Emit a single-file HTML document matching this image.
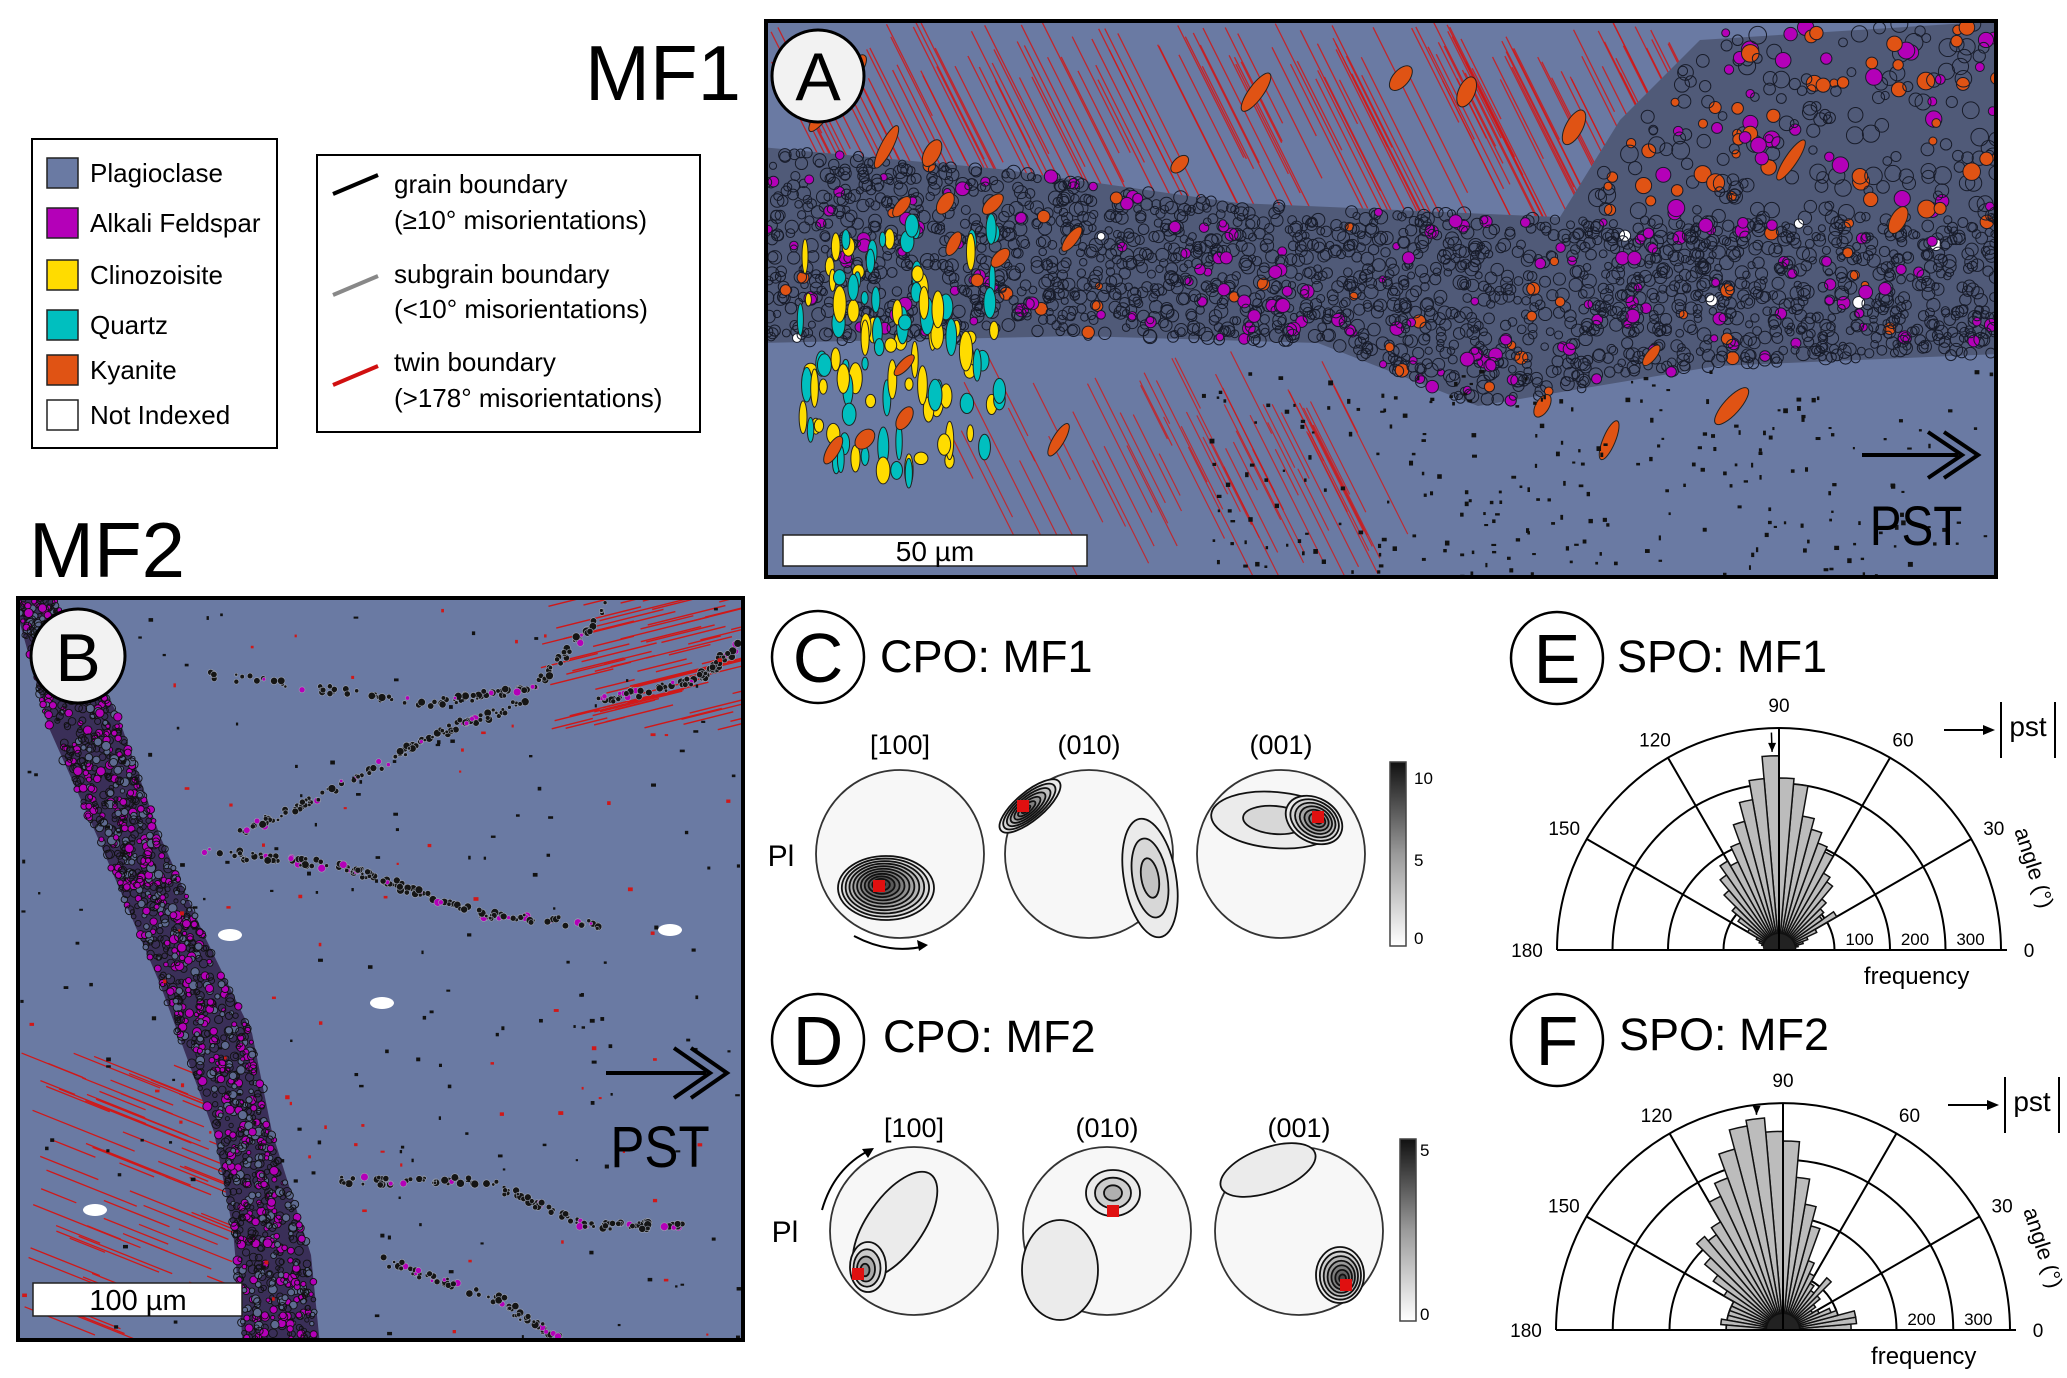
<!DOCTYPE html>
<html><head><meta charset="utf-8">
<style>
html,body{margin:0;padding:0;background:#fff;}
svg{display:block;font-family:"Liberation Sans",sans-serif;}
</style></head>
<body>
<svg id="fig" width="2067" height="1378" viewBox="0 0 2067 1378" xmlns="http://www.w3.org/2000/svg">
<defs>
  <clipPath id="clipA"><rect x="766" y="21" width="1230" height="556"/></clipPath>
  <clipPath id="clipB"><rect x="18" y="598" width="725" height="742"/></clipPath>
  <linearGradient id="cbar" x1="0" y1="1" x2="0" y2="0">
    <stop offset="0" stop-color="#ffffff"/><stop offset="0.5" stop-color="#9a9a9a"/><stop offset="1" stop-color="#111"/>
  </linearGradient>
</defs>

<text x="585" y="100" font-size="78">MF1</text>
<text x="29" y="577" font-size="78">MF2</text>

<g>
  <rect x="32" y="139" width="245" height="309" fill="#fff" stroke="#000" stroke-width="2"/>
  <rect x="47" y="158" width="31" height="30" fill="#6a7aa3" stroke="#222" stroke-width="1.5"/>
  <text x="90" y="182" font-size="26">Plagioclase</text>
  <rect x="47" y="208" width="31" height="30" fill="#b400b8" stroke="#222" stroke-width="1.5"/>
  <text x="90" y="232" font-size="26">Alkali Feldspar</text>
  <rect x="47" y="260" width="31" height="30" fill="#ffdc00" stroke="#222" stroke-width="1.5"/>
  <text x="90" y="284" font-size="26">Clinozoisite</text>
  <rect x="47" y="310" width="31" height="30" fill="#00bfbf" stroke="#222" stroke-width="1.5"/>
  <text x="90" y="334" font-size="26">Quartz</text>
  <rect x="47" y="355" width="31" height="30" fill="#e05314" stroke="#222" stroke-width="1.5"/>
  <text x="90" y="379" font-size="26">Kyanite</text>
  <rect x="47" y="400" width="31" height="30" fill="#fff" stroke="#222" stroke-width="1.5"/>
  <text x="90" y="424" font-size="26">Not Indexed</text>
</g>

<g>
  <rect x="317" y="155" width="383" height="277" fill="#fff" stroke="#000" stroke-width="2"/>
  <line x1="333" y1="194" x2="378" y2="175" stroke="#000" stroke-width="4"/>
  <text x="394" y="193" font-size="26">grain boundary</text>
  <text x="394" y="229" font-size="26">(≥10° misorientations)</text>
  <line x1="333" y1="295" x2="378" y2="276" stroke="#888" stroke-width="4"/>
  <text x="394" y="283" font-size="26">subgrain boundary</text>
  <text x="394" y="318" font-size="26">(&lt;10° misorientations)</text>
  <line x1="333" y1="385" x2="378" y2="366" stroke="#d01010" stroke-width="4"/>
  <text x="394" y="371" font-size="26">twin boundary</text>
  <text x="394" y="407" font-size="26">(&gt;178° misorientations)</text>
</g>

<g>
  <rect x="766" y="21" width="1230" height="556" fill="#6a7aa3"/>
  <g id="mapA" clip-path="url(#clipA)"></g>
  <rect x="766" y="21" width="1230" height="556" fill="none" stroke="#000" stroke-width="4"/>
  <g>
    <rect x="783" y="535" width="304" height="31" fill="#fff" stroke="#222" stroke-width="1.5"/>
    <text x="935" y="561" font-size="28" text-anchor="middle">50 µm</text>
  </g>
  <g>
    <line x1="1862" y1="455" x2="1958" y2="455" stroke="#000" stroke-width="4"/>
    <polyline points="1928,432 1962,455 1928,478" fill="none" stroke="#000" stroke-width="4"/>
    <polyline points="1944,432 1978,455 1944,478" fill="none" stroke="#000" stroke-width="4"/>
    <text x="1916" y="545" font-size="56" text-anchor="middle" transform="translate(1916 0) scale(0.85 1) translate(-1916 0)">PST</text>
  </g>
  <g>
    <circle cx="818" cy="76" r="46" fill="#f2f2f2" stroke="#000" stroke-width="3"/>
    <text x="818" y="100" font-size="68" text-anchor="middle">A</text>
  </g>
</g>

<g>
  <rect x="18" y="598" width="725" height="742" fill="#6a7aa3"/>
  <g id="mapB" clip-path="url(#clipB)"></g>
  <rect x="18" y="598" width="725" height="742" fill="none" stroke="#000" stroke-width="4"/>
  <g>
    <rect x="33" y="1283" width="209" height="33" fill="#fff" stroke="#222" stroke-width="1.5"/>
    <text x="138" y="1310" font-size="29" text-anchor="middle">100 µm</text>
  </g>
  <g>
    <line x1="606" y1="1073" x2="706" y2="1073" stroke="#000" stroke-width="4"/>
    <polyline points="674,1048 710,1073 674,1098" fill="none" stroke="#000" stroke-width="4"/>
    <polyline points="691,1048 727,1073 691,1098" fill="none" stroke="#000" stroke-width="4"/>
    <text x="660" y="1167" font-size="58" text-anchor="middle" transform="translate(660 0) scale(0.88 1) translate(-660 0)">PST</text>
  </g>
  <g>
    <circle cx="78" cy="656" r="47" fill="#f2f2f2" stroke="#000" stroke-width="3"/>
    <text x="78" y="681" font-size="68" text-anchor="middle">B</text>
  </g>
</g>

<g>
  <circle cx="818" cy="657" r="46" fill="#fff" stroke="#000" stroke-width="2.5"/>
  <text x="818" y="682" font-size="70" text-anchor="middle">C</text>
  <text x="880" y="672" font-size="45">CPO: MF1</text>
  <text x="781" y="866" font-size="30" text-anchor="middle">Pl</text>
  <text x="900" y="754" font-size="27" text-anchor="middle">[100]</text>
  <text x="1089" y="754" font-size="27" text-anchor="middle">(010)</text>
  <text x="1281" y="754" font-size="27" text-anchor="middle">(001)</text>
  <g id="poleC"></g>
  <path d="M854,936 Q890,955 925,946" fill="none" stroke="#000" stroke-width="2"/>
  <polygon points="928,945 917,940 919,951" fill="#000"/>
  <rect x="1390" y="762" width="16" height="184" fill="url(#cbar)" stroke="#444" stroke-width="1.5"/>
  <text x="1414" y="784" font-size="17">10</text>
  <text x="1414" y="866" font-size="17">5</text>
  <text x="1414" y="944" font-size="17">0</text>
</g>

<g>
  <circle cx="818" cy="1040" r="46" fill="#fff" stroke="#000" stroke-width="2.5"/>
  <text x="818" y="1065" font-size="70" text-anchor="middle">D</text>
  <text x="883" y="1052" font-size="45">CPO: MF2</text>
  <text x="785" y="1242" font-size="30" text-anchor="middle">Pl</text>
  <text x="914" y="1137" font-size="27" text-anchor="middle">[100]</text>
  <text x="1107" y="1137" font-size="27" text-anchor="middle">(010)</text>
  <text x="1299" y="1137" font-size="27" text-anchor="middle">(001)</text>
  <g id="poleD"></g>
  <path d="M822,1210 Q834,1168 870,1150" fill="none" stroke="#000" stroke-width="2"/>
  <polygon points="874,1148 862,1149 868,1158" fill="#000"/>
  <rect x="1400" y="1139" width="16" height="182" fill="url(#cbar)" stroke="#444" stroke-width="1.5"/>
  <text x="1420" y="1156" font-size="17">5</text>
  <text x="1420" y="1320" font-size="17">0</text>
</g>

<g>
  <circle cx="1557" cy="658" r="46" fill="#fff" stroke="#000" stroke-width="2.5"/>
  <text x="1557" y="683" font-size="70" text-anchor="middle">E</text>
  <text x="1617" y="672" font-size="45">SPO: MF1</text>
</g>
<g>
  <circle cx="1557" cy="1040" r="46" fill="#fff" stroke="#000" stroke-width="2.5"/>
  <text x="1557" y="1065" font-size="70" text-anchor="middle">F</text>
  <text x="1619" y="1050" font-size="45">SPO: MF2</text>
</g>
<g id="roseE"></g>
<g id="roseF"></g>
</svg>

<script>
const binStartsDeg = [0,5,10,15,20,25,30,35,40,45,50,55,60,65,70,75,80,85,90,95,100,105,110,115,120,125,130,135,140,145,150,155,160,165,170,175];
const freqMF1 = [25,30,35,45,55,75,120,95,105,120,150,160,195,205,225,245,300,310,350,310,275,240,205,175,185,165,140,110,90,65,45,38,32,28,25,22];
const freqMF2 = [120,130,130,100,90,70,60,70,85,120,85,95,110,130,190,225,270,333,350,375,365,330,285,260,220,205,215,180,150,120,100,100,100,100,110,100];
const ringTicks = [100,200,300,400];
const angleTicks = [0,30,60,90,120,150,180];
const freqLabelsE = [100,200,300];
const freqLabelsF = [200,300];
const maxFreq = 400;

const NS = "http://www.w3.org/2000/svg";
function mk(parent, tag, attrs){
  const e = document.createElementNS(NS, tag);
  for (const k in attrs) e.setAttribute(k, attrs[k]);
  parent.appendChild(e);
  return e;
}

function drawRose(g, cx, cy, R, freqs, flabels, meanDeg){
  const rScale = v => v / maxFreq * R;
  const px = (deg, r) => cx + r * Math.cos(deg*Math.PI/180);
  const py = (deg, r) => cy - r * Math.sin(deg*Math.PI/180);
  ringTicks.forEach(t => {
    const r = rScale(t);
    const ring = mk(g, "path", {d:`M${cx-r},${cy} A${r},${r} 0 0 1 ${cx+r},${cy}`, fill:"none", stroke:"#000", "stroke-width":2});
    
    
  });
  angleTicks.slice(1,-1).forEach(a => {
    const ln = mk(g, "line", {x1:cx, y1:cy, x2:px(a,R), y2:py(a,R), stroke:"#000", "stroke-width":2});
    
    
  });
  binStartsDeg.forEach((a0, i) => {
    const a1 = a0 + 5, r = rScale(freqs[i]);
    const bar = mk(g, "path", {d:`M${cx},${cy} L${px(a0,r)},${py(a0,r)} A${r},${r} 0 0 0 ${px(a1,r)},${py(a1,r)} Z`, fill:"#bcbcbc", stroke:"#111", "stroke-width":1.5});
    
    
  });
  const blob = mk(g, "path", {d:`M${cx-16},${cy} A16,16 0 0 1 ${cx+16},${cy} Z`, fill:"#222"});
  
  
  const l90 = mk(g, "line", {x1:cx, y1:cy, x2:cx, y2:cy-R, stroke:"#000", "stroke-width":2});
  
  
  const base = mk(g, "line", {x1:cx-R, y1:cy, x2:cx+R+6, y2:cy, stroke:"#000", "stroke-width":2});
  
  
  const mr = R*0.98, mr2 = rScale(freqs[Math.floor(meanDeg/5)]) + 4;
  const ma = mk(g, "line", {x1:px(meanDeg,mr), y1:py(meanDeg,mr), x2:px(meanDeg,mr2), y2:py(meanDeg,mr2), stroke:"#000", "stroke-width":1.5});
  
  
  const tipx = px(meanDeg,mr2), tipy = py(meanDeg,mr2);
  const mh = mk(g, "polygon", {points:`${tipx},${tipy} ${tipx-4},${tipy-9} ${tipx+4},${tipy-9}`, fill:"#000"});
  
  
  angleTicks.forEach(a => {
    let lx = px(a, R+26), ly = py(a, R+20) + 6;
    if (a === 0) { lx = cx + R + 28; ly = cy + 7; }
    if (a === 180) { lx = cx - R - 30; ly = cy + 7; }
    if (a === 90) { ly = cy - R - 16; }
    const t = mk(g, "text", {x:lx, y:ly, "font-size":19, "text-anchor":"middle"});
    t.textContent = a;
    
    
  });
  flabels.forEach(f => {
    const t = mk(g, "text", {x:cx + rScale(f) + 25, y:cy - 5, "font-size":17, "text-anchor":"middle"});
    t.textContent = f;
    
    
  });
  const ft = mk(g, "text", {x:cx + R*0.62, y:cy + 34, "font-size":24, "text-anchor":"middle"});
  ft.textContent = "frequency";
  
  
  const at = mk(g, "text", {x:cx + R + 26, y:cy - 80, "font-size":22, "text-anchor":"middle", transform:`rotate(72 ${cx+R+26} ${cy-80})`});
  at.textContent = "angle (°)";
  
  
  const pa = mk(g, "line", {x1:cx+165, y1:cy-R+2, x2:cx+208, y2:cy-R+2, stroke:"#000", "stroke-width":2});
  
  
  const ph = mk(g, "polygon", {points:`${cx+216},${cy-R+2} ${cx+204},${cy-R-3} ${cx+204},${cy-R+7}`, fill:"#000"});
  
  
  const b1 = mk(g, "line", {x1:cx+222, y1:cy-R-26, x2:cx+222, y2:cy-R+30, stroke:"#000", "stroke-width":2});
  
  
  const b2 = mk(g, "line", {x1:cx+276, y1:cy-R-26, x2:cx+276, y2:cy-R+30, stroke:"#000", "stroke-width":2});
  
  
  const pt = mk(g, "text", {x:cx+249, y:cy-R+8, "font-size":28, "text-anchor":"middle"});
  pt.textContent = "pst";
  
  
}
drawRose(document.getElementById("roseE"), 1779, 950, 222, freqMF1, freqLabelsE, 92);
drawRose(document.getElementById("roseF"), 1783, 1330, 227, freqMF2, freqLabelsF, 97);

function pole(g, cx, cy, r, contours, red){
  const c = mk(g, "circle", {cx:cx, cy:cy, r:r, fill:"#f7f7f7", stroke:"#333", "stroke-width":1.8});
  
  
  contours.forEach(k => {
    const n = k.n, s = k.s || 1;
    for (let i = 0; i < n; i++){
      const f = 1 - i/n;
      const shade = Math.round(235 - (i/n) * (k.dark || 170));
      const e = mk(g, "ellipse", {cx:k.x + (k.dx||0)*(1-f), cy:k.y + (k.dy||0)*(1-f), rx:k.rx*f, ry:k.ry*f, fill:`rgb(${shade},${shade},${shade})`, stroke:"#111", "stroke-width":1.8*s, transform:`rotate(${k.rot||0} ${k.x} ${k.y})`});
      
      
    }
  });
  const rq = mk(g, "rect", {x:red[0]-6, y:red[1]-6, width:12, height:12, fill:"#e01010"});
  
  
}
const gC = document.getElementById("poleC");
pole(gC, 900, 854, 84, [{x:886,y:888,rx:48,ry:32,n:11,dx:-6,dy:-4,dark:200}], [879,886]);
pole(gC, 1089, 854, 84, [{x:1150,y:878,rx:26,ry:60,n:3,rot:-10,dark:60},{x:1030,y:806,rx:38,ry:14,n:7,rot:-40,dx:-6,dy:0,dark:150}], [1023,806]);
pole(gC, 1281, 854, 84, [{x:1275,y:820,rx:64,ry:28,n:2,rot:5,dark:40},{x:1314,y:820,rx:30,ry:22,n:7,rot:30,dx:4,dy:-2,dark:160}], [1318,817]);
const gD = document.getElementById("poleD");
pole(gD, 914, 1231, 84, [{x:895,y:1225,rx:28,ry:62,n:1,rot:35,dark:20},{x:868,y:1267,rx:18,ry:25,n:4,dx:-4,dy:4,dark:130}], [858,1274]);
pole(gD, 1107, 1231, 84, [{x:1113,y:1193,rx:27,ry:23,n:3,dark:90},{x:1060,y:1270,rx:38,ry:50,n:1,dark:10}], [1113,1211]);
pole(gD, 1299, 1231, 84, [{x:1268,y:1170,rx:50,ry:22,n:1,rot:-20,dark:20},{x:1340,y:1275,rx:24,ry:28,n:7,dx:3,dy:4,dark:190}], [1346,1285]);

let seed = 12345;
function rnd(){ seed |= 0; seed = seed + 0x6D2B79F5 | 0; let t = Math.imul(seed ^ seed >>> 15, 1 | seed); t = t + Math.imul(t ^ t >>> 7, 61 | t) ^ t; return ((t ^ t >>> 14) >>> 0) / 4294967296; }
function interp(pts, v){
  for (let i = 0; i < pts.length-1; i++){
    if (v >= pts[i][0] && v <= pts[i+1][0]){ const f = (v-pts[i][0])/(pts[i+1][0]-pts[i][0]); return pts[i][1] + f*(pts[i+1][1]-pts[i][1]); }
  }
  return pts[pts.length-1][1];
}
const mapA = document.getElementById("mapA");
const topA = [[760,147],[999,169],[1238,203],[1557,217],[2000,217]];
const botA = [[760,343],[1079,336],[1318,343],[1478,406],[1717,366],[2000,354]];
for (let i = 0; i < 140; i++){
  const x = 770 + rnd()*900, y = 21 + rnd()*60, len = 80 + rnd()*160;
  const l = mk(mapA, "line", {x1:x, y1:y, x2:x+len*0.5, y2:y+len, stroke:"#d01818", "stroke-width":1.3, opacity:0.85});
  
  
}
for (let i = 0; i < 60; i++){
  const x = 950 + rnd()*400, y = 350 + rnd()*120, len = 40 + rnd()*120;
  const l = mk(mapA, "line", {x1:x, y1:y, x2:x+len*0.5, y2:y+len, stroke:"#d01818", "stroke-width":1.2, opacity:0.8});
  
  
}
let bandPts = topA.map(p=>p.join(",")).join(" ") + " " + botA.slice().reverse().map(p=>p.join(",")).join(" ");
const bandA = mk(mapA, "polygon", {points:bandPts, fill:"#505a78"});


const upperRight = mk(mapA, "polygon", {points:"1560,217 1620,120 1700,40 2000,21 2000,217", fill:"#505a78"});


for (let i = 0; i < 2200; i++){
  const x = 766 + rnd()*1232, t = interp(topA, x), b = interp(botA, x);
  const y = t + rnd()*(b-t);
  const q = rnd();
  const fill = q < 0.07 ? "#b400b8" : (q < 0.085 ? "#e05314" : (q < 0.09 ? "#fff" : "none"));
  const g = mk(mapA, "circle", {cx:x, cy:y, r:3.5+rnd()*3.5, fill:fill, stroke:"#181c2a", "stroke-width":1});
  
  
}
for (let i = 0; i < 300; i++){
  const x = 1560 + rnd()*440, y = 21 + rnd()*196;
  if (y < 217 - (x-1560)*1.2) continue;
  const q = rnd();
  const fill = q < 0.15 ? "#b400b8" : (q < 0.3 ? "#e05314" : "none");
  const g = mk(mapA, "circle", {cx:x, cy:y, r:4+rnd()*5, fill:fill, stroke:"#181c2a", "stroke-width":1});
  
  
}
for (let i = 0; i < 110; i++){
  const x = 800 + rnd()*200, y = 225 + rnd()*250;
  const q = rnd();
  const g = mk(mapA, "ellipse", {cx:x, cy:y, rx:3+rnd()*4, ry:6+rnd()*14, fill:q<0.5?"#ffdc00":"#00bfbf", stroke:"#222", "stroke-width":1});
  
  
}
for (let i = 0; i < 26; i++){
  const x = 800 + rnd()*1100, y = 40 + rnd()*420;
  const g = mk(mapA, "ellipse", {cx:x, cy:y, rx:5+rnd()*4, ry:10+rnd()*14, fill:"#e05314", stroke:"#222", "stroke-width":1, transform:`rotate(${20+rnd()*30} ${x} ${y})`});
  
  
}
for (let i = 0; i < 260; i++){
  const x = 1200 + rnd()*790, y = 370 + rnd()*205;
  const s = mk(mapA, "rect", {x:x, y:y, width:2+rnd()*3, height:2+rnd()*3, fill:"#111"});
  
  
}

const mapB = document.getElementById("mapB");
const leftB = [[590,15],[620,19],[728,49],[836,97],[984,160],[1132,214],[1230,233],[1345,243]];
const rightB = [[590,50],[605,58],[713,117],[836,160],[935,204],[1033,252],[1132,272],[1255,311],[1345,320]];
for (let i = 0; i < 70; i++){
  const x = 540 + rnd()*200, y = 600 + rnd()*130, len = 30 + rnd()*60;
  const l = mk(mapB, "line", {x1:x, y1:y, x2:x+len, y2:y-len*0.25, stroke:"#d01818", "stroke-width":1.4});
  
  
}
for (let i = 0; i < 70; i++){
  const x = 20 + rnd()*200, y = 1050 + rnd()*260, len = 30 + rnd()*80;
  const l = mk(mapB, "line", {x1:x, y1:y, x2:x+len, y2:y+len*0.4, stroke:"#d01818", "stroke-width":1.3});
  
  
}
const bandBpts = leftB.map(p=>p[1]+","+p[0]).join(" ") + " " + rightB.slice().reverse().map(p=>p[1]+","+p[0]).join(" ");
const bandB = mk(mapB, "polygon", {points:bandBpts, fill:"#3a2f58"});


for (let i = 0; i < 1500; i++){
  const y = 598 + rnd()*742, l = interp(leftB, y), r = interp(rightB, y);
  const x = l + rnd()*(r-l);
  const q = rnd();
  const g = mk(mapB, "circle", {cx:x, cy:y, r:2+rnd()*2.5, fill:q<0.3?"#b400b8":(q<0.5?"#5e6a90":"none"), stroke:"#111", "stroke-width":0.9});
  
  
}
const veins = [
  [[209,674],[427,703],[534,689],[607,605]],
  [[233,836],[340,787],[437,733],[524,703]],
  [[204,851],[340,866],[398,886],[485,915],[602,925]],
  [[340,1181],[485,1181],[583,1225],[680,1225]],
  [[380,1260],[500,1300],[560,1340]],
  [[600,700],[700,680],[743,640]]
];
veins.forEach(v => {
  for (let i = 0; i < v.length-1; i++){
    for (let k = 0; k < 40; k++){
      const f = rnd(), x = v[i][0] + f*(v[i+1][0]-v[i][0]) + (rnd()-0.5)*8, y = v[i][1] + f*(v[i+1][1]-v[i][1]) + (rnd()-0.5)*8;
      const s = mk(mapB, "circle", {cx:x, cy:y, r:1.5+rnd()*2.5, fill:rnd()<0.15?"#b400b8":"#151515", stroke:"#9aa0b0", "stroke-width":0.6});
      
      
    }
  }
});
for (let i = 0; i < 250; i++){
  const x = 20 + rnd()*720, y = 600 + rnd()*740;
  const s = mk(mapB, "rect", {x:x, y:y, width:2+rnd()*3, height:2+rnd()*2, fill:rnd()<0.3?"#d01818":"#111"});
  
  
}
[[382,1003],[670,930],[230,935],[95,1210]].forEach(p => {
  const w = mk(mapB, "ellipse", {cx:p[0], cy:p[1], rx:12, ry:6, fill:"#fff"});
  
  
});
</script>
</body></html>
